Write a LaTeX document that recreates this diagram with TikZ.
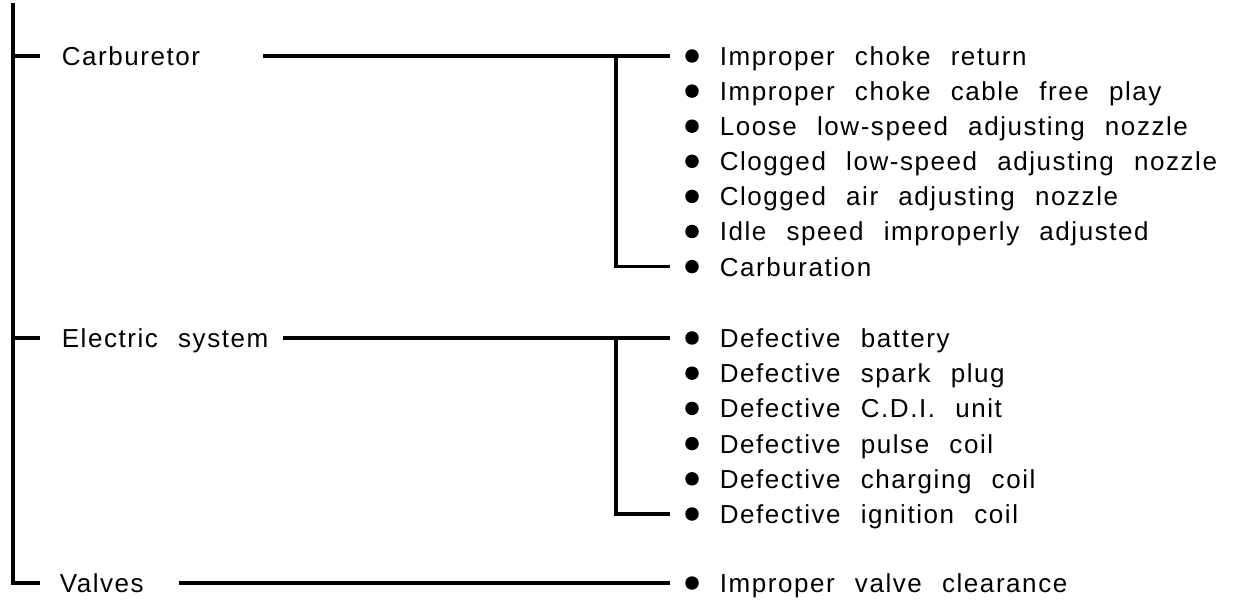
\documentclass[tikz,border=0pt]{standalone}
\usepackage{fontspec}
\setmainfont[LetterSpace=6,WordSpace=2.3]{Liberation Sans}
\begin{document}
\begin{tikzpicture}[x=1pt,y=-1pt,line width=3.6pt,
    dot/.style={circle,fill,inner sep=0pt,minimum size=13.5pt},
    txt/.style={anchor=base west,inner sep=0pt,font=\fontsize{26}{30}\selectfont},
    tie/.style={shorten >=13pt}]
  \useasboundingbox (0,0) rectangle (1239,601);
  % main line
  \coordinate (top) at (13,3);
  \coordinate (bot) at (40,583);
  \draw (top) |- (bot);
  \node[txt] (valv) at (58,592.5) {Valves};
  % carburetor
  \coordinate (carbT) at (40,56);
  \draw (carbT -| top) -- (carbT);
  \node[txt] (carb) at (60,65.5) {Carburetor};
  \foreach \t [count=\i from 0] in {Improper choke return,Improper choke cable free play,
      Loose low-speed adjusting nozzle,Clogged low-speed adjusting nozzle,
      Clogged air adjusting nozzle,Idle speed improperly adjusted,Carburation}{
    \node[dot] (c\i) at (692,{56+35.1*\i}) {};
    \node[txt] (tc\i) at (718,{65.5+35.1*\i}) {\t};
  }
  \coordinate (carbL) at (263,56);
  \coordinate (carbB) at (616,56);
  \draw[tie] (carbL) -- (c0);
  \draw[tie] (carbB) |- (c6);
  % electric system
  \coordinate (elecT) at (40,338);
  \draw (elecT -| top) -- (elecT);
  \node[txt] (elec) at (60,347.5) {Electric system};
  \foreach \t [count=\i from 0] in {Defective battery,Defective spark plug,
      Defective C.D.I. unit,Defective pulse coil,Defective charging coil,
      Defective ignition coil}{
    \node[dot] (e\i) at (692,{338+35.2*\i}) {};
    \node[txt] (te\i) at (718,{347.5+35.2*\i}) {\t};
  }
  \coordinate (elecL) at (283,338);
  \coordinate (elecB) at (616,338);
  \draw[tie] (elecL) -- (e0);
  \draw[tie] (elecB) |- (e5);
  % valves
  \node[dot] (v0) at (692,583) {};
  \node[txt] (tv0) at (718,592.5) {Improper valve clearance};
  \coordinate (valvL) at (179,583);
  \draw[tie] (valvL) -- (v0);
\end{tikzpicture}
\end{document}
